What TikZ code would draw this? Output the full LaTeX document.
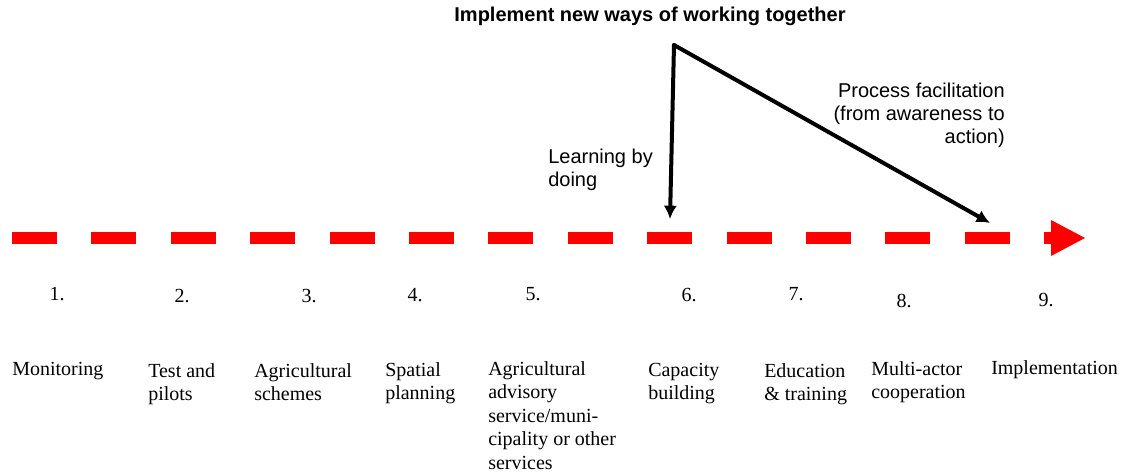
\documentclass[tikz,border=0pt]{standalone}
\usepackage{fontspec}
\setmainfont{Liberation Serif}
\setsansfont{Liberation Sans}
\usetikzlibrary{arrows.meta,positioning}

\begin{document}
\begin{tikzpicture}[x=0.75pt,y=-0.75pt,
  stagenum/.style={font=\fontsize{15}{17.6}\selectfont, inner sep=0pt},
  stagelabel/.style={font=\fontsize{15}{17.6}\selectfont, inner sep=0pt, anchor=north west, align=left},
  note/.style={font=\sffamily\fontsize{15}{17.25}\selectfont, inner sep=0pt},
  goal/.style={font=\sffamily\bfseries\fontsize{15}{17.25}\selectfont, inner sep=0pt},
  timeline/.style={red, line width=9pt, dash pattern=on 33.75pt off 25.8pt, -{Triangle[length=25.5pt,width=27pt,line width=0pt]}},
  link/.style={black, line width=3pt, line cap=round, -{Latex[length=10pt,width=10pt]}}]
\useasboundingbox (0,0) rectangle (1122,474);
% timeline
\coordinate (tl start) at (12,238);
\coordinate (tl end) at (1085,238);
\draw[timeline] (tl start) -- (tl end);
% stage numbers
\node[stagenum] (n1) at (57,294) {1.};
\node[stagenum] (n2) at (182,296) {2.};
\node[stagenum] (n3) at (309,296) {3.};
\node[stagenum] (n4) at (415,295) {4.};
\node[stagenum] (n5) at (533,294) {5.};
\node[stagenum] (n6) at (689,295) {6.};
\node[stagenum] (n7) at (796,294) {7.};
\node[stagenum] (n8) at (904,301) {8.};
\node[stagenum] (n9) at (1046,300) {9.};
% stage labels
\node[stagelabel] (monitoring) at (12,362) {Monitoring};
\node[stagelabel] (test) at (148,363) {Test and\\pilots};
\node[stagelabel] (schemes) at (254,363) {Agricultural\\schemes};
\node[stagelabel] (spatial) at (385,362) {Spatial\\planning};
\node[stagelabel] (advisory) at (488,361) {Agricultural\\advisory\\service/muni-\\cipality or other\\services};
\node[stagelabel] (capacity) at (648,363) {Capacity\\building};
\node[stagelabel] (education) at (764,363) {Education\\\& training};
\node[stagelabel] (multiactor) at (871,361) {Multi-actor\\cooperation};
\node[stagelabel] (implementation) at (991,360) {Implementation};
% process arrows
\node[goal] (together) at (650,16) {Implement new ways of working together};
\coordinate (apex) at (674,45);
\coordinate (doing end) at (670,219);
\coordinate (facil end) at (990,223);
\draw[link] (apex) -- (doing end);
\draw[link] (apex) -- (facil end);
\node[note, anchor=north west, align=left] (learning) at (548,149) {Learning by\\doing};
\node[note, anchor=north east, align=right] (facilitation) at (1005,83) {Process facilitation\\(from awareness to\\action)};
\end{tikzpicture}
\end{document}
